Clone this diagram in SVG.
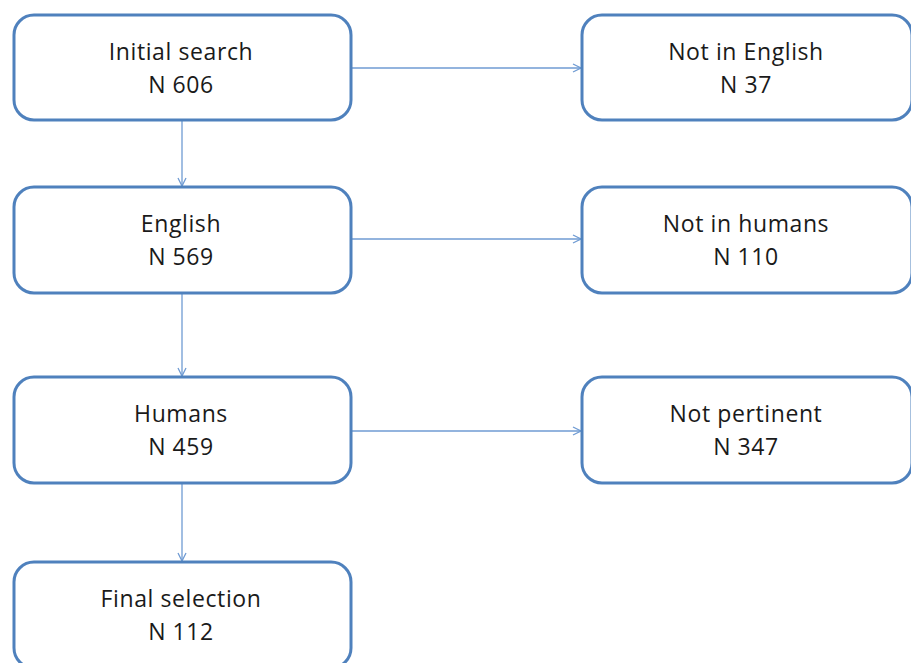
<svg xmlns="http://www.w3.org/2000/svg" width="911" height="663" viewBox="0 0 911 663">
<style>
.box{fill:#fff;stroke:#4f81bd;stroke-width:3}
.t{font-family:"Open Sans","Liberation Sans",Arial,sans-serif;font-size:23px;letter-spacing:0.6px;fill:#1a1a1a;text-anchor:middle}
.c{stroke:#6f9bd3;stroke-width:1.3;fill:none}
</style>
<defs>
<marker id="ah" viewBox="0 0 10 10" refX="9" refY="5" markerWidth="10" markerHeight="10" markerUnits="userSpaceOnUse" orient="auto">
<path d="M1,1 L9,5 L1,9" fill="none" stroke="#6f9bd3" stroke-width="1.3"/>
</marker>
</defs>
<rect width="911" height="663" fill="#fff"/>
<g id="connectors">
<line class="c" x1="182" y1="120" x2="182" y2="186" marker-end="url(#ah)"/>
<line class="c" x1="182" y1="293" x2="182" y2="376" marker-end="url(#ah)"/>
<line class="c" x1="182" y1="483" x2="182" y2="561" marker-end="url(#ah)"/>
<line class="c" x1="351" y1="68" x2="581" y2="68" marker-end="url(#ah)"/>
<line class="c" x1="351" y1="239" x2="581" y2="239" marker-end="url(#ah)"/>
<line class="c" x1="351" y1="431" x2="581" y2="431" marker-end="url(#ah)"/>
</g>
<g id="initial">
<rect class="box" x="14" y="15" width="337" height="105" rx="20"/>
<text class="t" x="181" y="59.5">Initial search</text>
<text class="t" x="181" y="93">N 606</text>
</g>
<g id="english">
<rect class="box" x="14" y="187" width="337" height="106" rx="20"/>
<text class="t" x="181" y="231.5">English</text>
<text class="t" x="181" y="265">N 569</text>
</g>
<g id="humans">
<rect class="box" x="14" y="377" width="337" height="106" rx="20"/>
<text class="t" x="181" y="421.5">Humans</text>
<text class="t" x="181" y="455">N 459</text>
</g>
<g id="final">
<rect class="box" x="14" y="562" width="337" height="106" rx="20"/>
<text class="t" x="181" y="606.5">Final selection</text>
<text class="t" x="181" y="640">N 112</text>
</g>
<g id="notEnglish">
<rect class="box" x="582" y="15" width="330" height="105" rx="20"/>
<text class="t" x="746" y="59.5">Not in English</text>
<text class="t" x="746" y="93">N 37</text>
</g>
<g id="notHumans">
<rect class="box" x="582" y="187" width="330" height="106" rx="20"/>
<text class="t" x="746" y="231.5">Not in humans</text>
<text class="t" x="746" y="265">N 110</text>
</g>
<g id="notPertinent">
<rect class="box" x="582" y="377" width="330" height="106" rx="20"/>
<text class="t" x="746" y="421.5">Not pertinent</text>
<text class="t" x="746" y="455">N 347</text>
</g>
</svg>
